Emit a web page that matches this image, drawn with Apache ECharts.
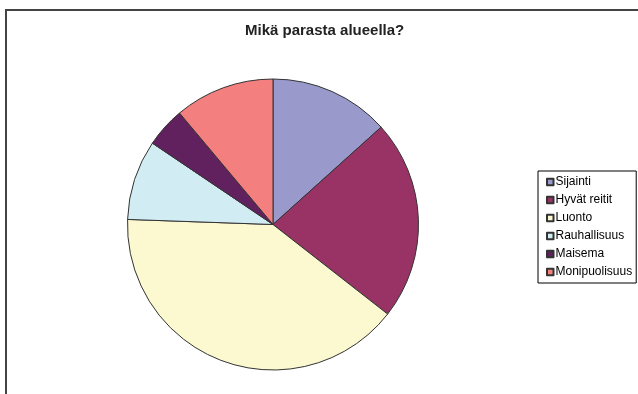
<!DOCTYPE html>
<html>
<head>
<meta charset="utf-8">
<script src="https://cdn.jsdelivr.net/npm/echarts@6/dist/echarts.min.js"></script>
<style>html,body{margin:0;padding:0;background:#fff}#c{width:638px;height:394px}</style>
</head>
<body>
<div id="c"></div>
<script>
const categories = ['Sijainti', 'Hyvät reitit', 'Luonto', 'Rauhallisuus', 'Maisema', 'Monipuolisuus'];
const values = [6, 10, 18, 4, 2, 5];
const colors = ['#9999cc', '#993366', '#fcf8d0', '#d2ecf3', '#61215f', '#f47f7f'];
const titleText = 'Mikä parasta alueella?';

const chart = echarts.init(document.getElementById('c'), null, {renderer: 'canvas'});
chart.setOption({
  animation: false,
  backgroundColor: '#fff',
  title: {
    text: titleText,
    left: 245, top: 23, padding: 0,
    textStyle: {fontFamily: 'Liberation Sans, Arial, sans-serif', fontSize: 15, fontWeight: 'bold', color: '#222'}
  },
  graphic: [{
    type: 'rect', silent: true, z: -1,
    shape: {x: 6, y: 10, width: 700, height: 500},
    style: {fill: 'none', stroke: '#444', lineWidth: 2}
  }],
  legend: {
    orient: 'vertical',
    left: 538, top: 171,
    padding: [5, 4, 5, 8],
    borderColor: '#000', borderWidth: 1,
    itemWidth: 6.5, itemHeight: 6.5, itemGap: 6,
    icon: 'rect',
    textStyle: {fontFamily: 'Liberation Sans, Arial, sans-serif', fontSize: 12, color: '#000', padding: [0, 0, 0, -3]},
    data: categories
  },
  series: [{
    type: 'pie',
    center: [273, 224.5],
    radius: 145.5,
    startAngle: 90,
    clockwise: true,
    label: {show: false},
    labelLine: {show: false},
    emphasis: {disabled: true},
    itemStyle: {borderColor: '#333', borderWidth: 1},
    data: categories.map((n, i) => ({name: n, value: values[i], itemStyle: {color: colors[i]}}))
  }]
});
</script>
</body>
</html>
